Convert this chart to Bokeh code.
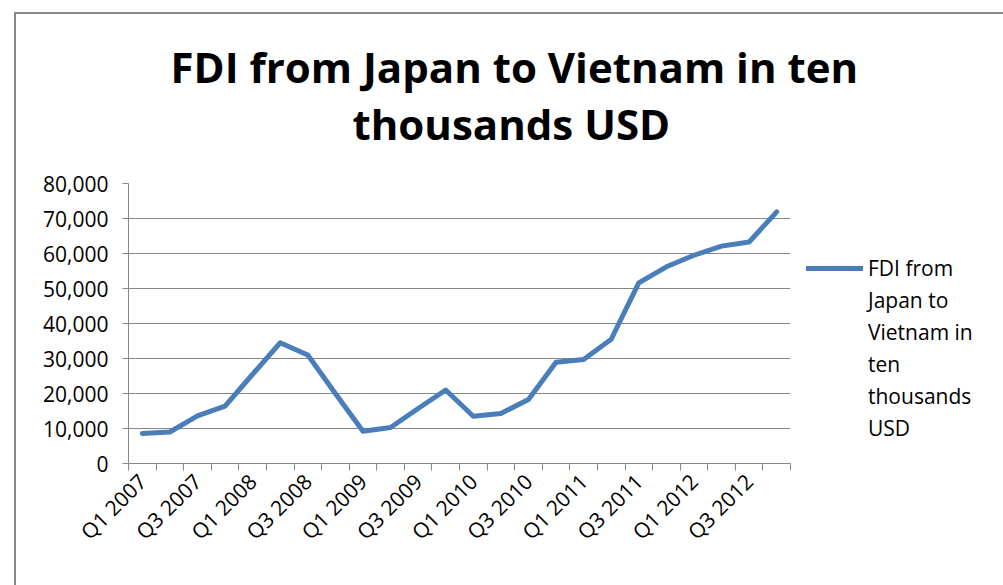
from bokeh.plotting import figure
from bokeh.models import (Range1d, FixedTicker, NumeralTickFormatter, CustomJSTickFormatter,
                          Legend, LegendItem, Title)
from bokeh.embed import file_html
from bokeh.resources import INLINE

quarters = ["Q1 2007", "Q2 2007", "Q3 2007", "Q4 2007",
            "Q1 2008", "Q2 2008", "Q3 2008", "Q4 2008",
            "Q1 2009", "Q2 2009", "Q3 2009", "Q4 2009",
            "Q1 2010", "Q2 2010", "Q3 2010", "Q4 2010",
            "Q1 2011", "Q2 2011", "Q3 2011", "Q4 2011",
            "Q1 2012", "Q2 2012", "Q3 2012", "Q4 2012"]
fdi = [8600, 9000, 13600, 16400,
       25500, 34500, 31000, 20000,
       9200, 10300, 15700, 21000,
       13500, 14300, 18300, 28900,
       29700, 35500, 51600, 56200,
       59500, 62100, 63300, 71900]
y_ticks = [0, 10000, 20000, 30000, 40000, 50000, 60000, 70000, 80000]
title_lines = ["FDI from Japan to Vietnam in ten", "thousands USD"]
legend_lines = ["FDI from", "Japan to", "Vietnam in", "ten", "thousands", "USD"]

FONT = "Open Sans"
GRID = "#878787"
LINE = "#4A7EBB"

n = len(quarters)
xs = [i + 0.5 for i in range(n)]

p = figure(frame_width=662, frame_height=280, output_backend="svg", toolbar_location=None,
           x_range=Range1d(0, n), y_range=Range1d(0, 80000),
           min_border_left=112, min_border_right=213, min_border_top=169, min_border_bottom=122)
p.styles = {"margin-left": "14px", "margin-top": "12px",
            "border-left": "2px solid #888888", "border-top": "2px solid #888888"}
p.outline_line_color = None
p.background_fill_color = "white"
p.border_fill_color = "white"

r = p.line(xs, fdi, line_color=LINE, line_width=5, line_join="round", line_cap="round")
dummy = p.line([], [], line_alpha=0)

# y axis
ya = p.yaxis[0]
ya.ticker = FixedTicker(ticks=y_ticks)
ya.formatter = NumeralTickFormatter(format="0,0")
ya.axis_line_color = GRID
ya.major_tick_line_color = GRID
ya.major_tick_out = 6
ya.major_tick_in = 0
ya.minor_tick_line_color = None
ya.major_label_text_font = FONT
ya.major_label_text_font_size = "21px"
ya.major_label_text_color = "#000000"
ya.major_label_standoff = 14

# x axis
xa = p.xaxis[0]
xa.ticker = FixedTicker(ticks=[xs[i] for i in range(0, n, 2)], minor_ticks=list(range(n + 1)))
xa.formatter = CustomJSTickFormatter(args=dict(labels=quarters),
                                     code="return labels[Math.round(tick - 0.5)];")
xa.axis_line_color = GRID
xa.major_tick_line_color = None
xa.major_tick_out = 0
xa.major_tick_in = 0
xa.minor_tick_line_color = GRID
xa.minor_tick_out = 7
xa.minor_tick_in = 0
xa.major_label_orientation = 0.785398
xa.major_label_text_font = FONT
xa.major_label_text_font_size = "21px"
xa.major_label_text_color = "#000000"
xa.major_label_standoff = 7

p.xgrid.visible = False
p.ygrid.grid_line_color = GRID
p.ygrid.grid_line_width = 1
p.ygrid.ticker = FixedTicker(ticks=y_ticks)

# title: two lines, plus a spacer closest to the frame
p.add_layout(Title(text=" ", text_font_size="26px", standoff=0), "above")
p.add_layout(Title(text=title_lines[1], align="left", offset=224,
                   text_font=FONT, text_font_style="bold", text_line_height=0.63,
                   text_font_size="42px", text_color="#000000", standoff=0), "above")
p.add_layout(Title(text=title_lines[0], align="left", offset=42,
                   text_font=FONT, text_font_style="bold", text_line_height=0.63,
                   text_font_size="42px", text_color="#000000", standoff=-5), "above")

# legend
items = [LegendItem(label=legend_lines[0], renderers=[r])]
for t in legend_lines[1:]:
    items.append(LegendItem(label=t, renderers=[dummy]))
leg = Legend(items=items, location=(16, 21), glyph_width=57, glyph_height=20,
             label_standoff=5, label_text_font=FONT, label_text_font_size="21px",
             label_text_color="#000000", padding=0, margin=0, spacing=4,
             border_line_color=None, background_fill_alpha=0)
p.add_layout(leg, "right")

open("out.html", "w").write(file_html(p, INLINE))
